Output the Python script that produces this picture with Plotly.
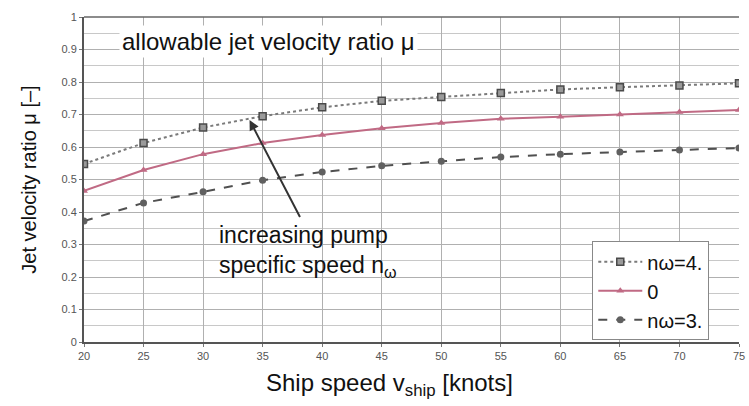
import plotly.graph_objects as go

ship_speed = [20, 25, 30, 35, 40, 45, 50, 55, 60, 65, 70, 75]
mu_n4 = [0.548, 0.612, 0.66, 0.695, 0.722, 0.742, 0.754, 0.766, 0.777, 0.784, 0.789, 0.796]
mu_n0 = [0.465, 0.529, 0.578, 0.612, 0.637, 0.658, 0.674, 0.687, 0.693, 0.700, 0.708, 0.714]
mu_n3 = [0.372, 0.428, 0.462, 0.498, 0.523, 0.542, 0.556, 0.569, 0.578, 0.585, 0.591, 0.597]
y_ticks = [0, 0.1, 0.2, 0.3, 0.4, 0.5, 0.6, 0.7, 0.8, 0.9, 1]
y_tick_text = ["0", "0.1", "0.2", "0.3", "0.4", "0.5", "0.6", "0.7", "0.8", "0.9", "1"]
x_ticks = [20, 25, 30, 35, 40, 45, 50, 55, 60, 65, 70, 75]

FONT = "Liberation Sans, Arial, sans-serif"

fig = go.Figure()
fig.add_trace(go.Scatter(
    x=ship_speed, y=mu_n4, name="nω=4.", mode="lines+markers",
    line=dict(color="#7a7a7a", width=2, dash="dot"),
    marker=dict(symbol="square", size=7, color="#9a9a9a", line=dict(color="#4a4a4a", width=1.5)),
))
fig.add_trace(go.Scatter(
    x=ship_speed, y=mu_n0, name="0", mode="lines+markers",
    line=dict(color="#c06a84", width=2),
    marker=dict(symbol="triangle-up", size=7, color="#c06a84"),
))
fig.add_trace(go.Scatter(
    x=ship_speed, y=mu_n3, name="nω=3.", mode="lines+markers",
    line=dict(color="#505050", width=2, dash="dash"),
    marker=dict(symbol="circle", size=7, color="#606060"),
))

fig.add_annotation(
    x=33.9, y=0.683, ax=38.2, ay=0.38, xref="x", yref="y", axref="x", ayref="y",
    showarrow=True, arrowhead=2, arrowsize=1, arrowwidth=2, arrowcolor="#333333", text="",
)
fig.add_annotation(
    x=31.2, y=0.28, xref="x", yref="y", text="increasing pump<br>specific speed n<sub>ω</sub>",
    showarrow=False, xanchor="left", yanchor="middle", align="left",
    font=dict(family=FONT, size=23, color="#111111"),
)
fig.add_annotation(
    x=22.9, y=0.925, xref="x", yref="y", text="allowable jet velocity ratio μ",
    showarrow=False, xanchor="left", yanchor="middle",
    font=dict(family=FONT, size=24, color="#111111"), bgcolor="white", borderpad=2,
)
fig.add_annotation(
    x=0.466, y=-0.132, xref="paper", yref="paper",
    text="Ship speed v<sub>ship</sub> [knots]",
    showarrow=False, xanchor="center", yanchor="middle",
    font=dict(family=FONT, size=24, color="#111111"),
)

fig.update_layout(
    width=749, height=406,
    margin=dict(l=84, r=4, t=17, b=64),
    paper_bgcolor="white", plot_bgcolor="white",
    font=dict(family=FONT, color="#111111"),
    showlegend=True,
    legend=dict(
        x=0.776, y=0.31, xanchor="left", yanchor="top",
        bgcolor="white", bordercolor="#888888", borderwidth=1,
        font=dict(family=FONT, size=20, color="#111111"),
        itemwidth=44, tracegroupgap=0,
    ),
    xaxis=dict(
        range=[20, 75], tickvals=x_ticks, ticktext=[str(v) for v in x_ticks],
        showgrid=True, gridcolor="#b0b0b0", gridwidth=1,
        showline=True, linecolor="#555555", linewidth=2, mirror=False,
        ticks="outside", ticklen=3, tickcolor="#777777",
        tickfont=dict(family=FONT, size=11, color="#555555"),
        ticklabeloverflow="allow",
        zeroline=False,
    ),
    yaxis=dict(
        range=[0, 1], tickvals=y_ticks, ticktext=y_tick_text,
        showgrid=True, gridcolor="#b0b0b0", gridwidth=1,
        minor=dict(dtick=0.05, showgrid=True, gridcolor="#c8c8c8", gridwidth=1),
        showline=True, linecolor="#555555", linewidth=2,
        ticks="outside", ticklen=3, tickcolor="#777777",
        tickfont=dict(family=FONT, size=11, color="#555555"),
        zeroline=False,
        title=dict(text="Jet velocity ratio μ [–]", font=dict(family=FONT, size=20, color="#111111"), standoff=20),
    ),
)
fig.add_shape(type="line", xref="paper", yref="paper", x0=0, x1=1, y0=1, y1=1,
              line=dict(color="#666666", width=1.5))

fig.write_html("out.html")
